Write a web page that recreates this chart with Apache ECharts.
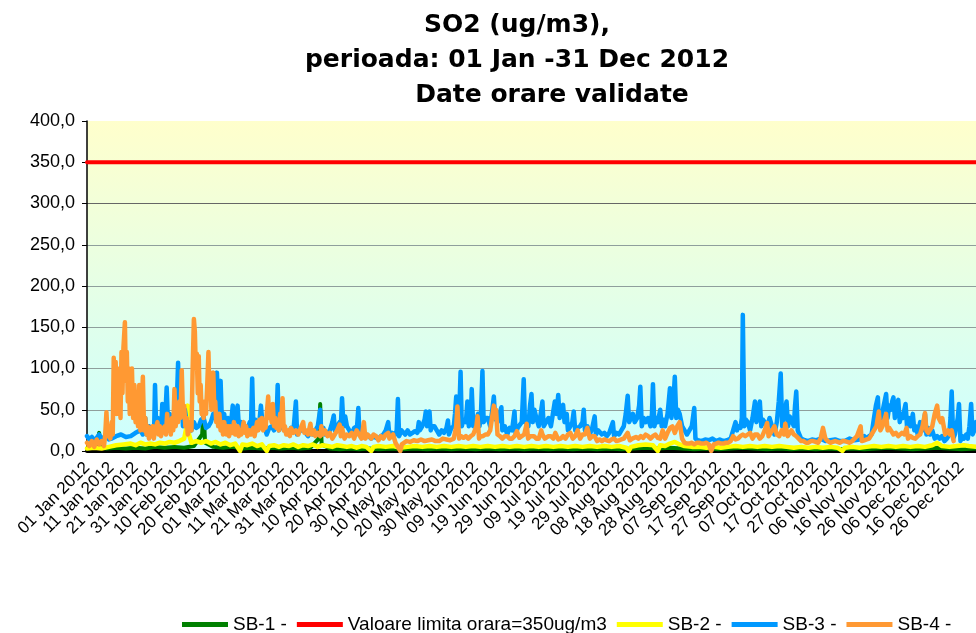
<!DOCTYPE html>
<html>
<head>
<meta charset="utf-8">
<script src="https://cdn.jsdelivr.net/npm/echarts@6/dist/echarts.min.js"></script>
<style>
html, body { margin: 0; padding: 0; background: #fff; }
#chart { width: 976px; height: 633px; }
</style>
</head>
<body>
<div id="chart"></div>
<script>
// zilele anului (0 = 01 Jan 2012), valori orare, ug/m3
var months = ['Jan', 'Feb', 'Mar', 'Apr', 'May', 'Jun', 'Jul', 'Aug', 'Sep', 'Oct', 'Nov', 'Dec'];
var limitValue = 350;
var limitLine = [[0, limitValue], [366, limitValue]];

var sb1 = [[0,3],[2,4],[4,6],[5,22],[5.6,5],[8,3],[12,4],[16,3],[20,4],[24,3],[28,5],[32,4],[36,5],[40,4],[44,6],
    [47.4,20],[48,52],[48.6,10],[52,5],[56,4],[60,5],[64,3],[68,4],[72,3],[76,4],[80,3],[84,4],[88,3],[92,4],
    [95.4,15],[96,57],[96.6,8],[100,3],[104,2],[108,3],[112,2],[116,3],[120,2],[125,3],[130,2],[135,3],[140,2],
    [145,3],[150,2],[155,3],[160,2],[165,3],[170,2],[175,3],[180,2],[185,3],[190,2],[195,3],[200,2],[205,3],
    [210,2],[215,3],[220,2],[225,3],[230,4],[235,3],[240,4],[245,3],[250,2],[255,3],[260,2],[265,3],[270,4],
    [275,3],[280,2],[285,3],[290,2],[295,3],[300,2],[305,3],[310,2],[315,3],[320,2],[325,3],[330,4],[335,3],
    [340,2],[345,3],[350,4],[355,3],[360,2],[366,3]];

var sb2 = [[0,3],[3,4],[6,3],[9,5],[12,7],[15,8],[18,9],[20,7],[22,10],[24,8],[26,9],[28,8],[30,10],[32,9],
    [34,11],[36,10],[38,12],[40,15],[41,30],[41.5,55],[42,20],[43,10],[45,12],[47,10],[49,12],[51,9],[53,11],
    [55,8],[57,10],[59,7],[61,9],[63,0],[64,8],[66,7],[68,9],[70,6],[72,8],[74,0],[75,6],[77,7],[79,5],[81,7],
    [83,6],[85,8],[87,5],[89,7],[91,6],[93,8],[95,5],[97,7],[99,6],[101,5],[103,7],[105,6],[107,5],[109,6],
    [111,4],[113,6],[115,5],[117,0],[118,5],[120,6],[123,5],[126,6],[129,4],[132,5],[135,6],[138,5],[141,6],
    [144,5],[147,6],[150,5],[153,6],[156,5],[159,6],[162,5],[165,6],[168,5],[171,6],[174,5],[177,6],[180,5],
    [183,6],[186,5],[189,6],[192,5],[195,6],[198,5],[201,6],[204,5],[207,6],[210,5],[213,6],[216,5],[219,6],
    [222,4],[223,0],[224,5],[227,7],[230,8],[233,7],[235,0],[236,7],[238,6],[240,9],[242,11],[244,8],[246,6],
    [249,5],[252,5],[255,4],[258,5],[261,4],[264,5],[267,6],[270,5],[273,6],[276,5],[279,6],[282,5],[285,6],
    [288,5],[291,4],[294,5],[297,4],[300,5],[303,4],[306,5],[309,4],[311,0],[312,4],[315,5],[318,4],[321,5],
    [324,6],[327,5],[330,6],[333,5],[336,6],[339,5],[342,6],[345,5],[348,7],[350,10],[352,6],[355,5],[358,6],
    [361,7],[363,6],[366,5]];

var sb3 = [[0,18],[1,14],[2,17],[3,13],[4,16],[5,20],[6,14],[7,17],[8,18],[9,14],[10,15],[12,18],[14,20],[16,17],
    [18,18],[20,22],[22,25],[23,20],[24,40],[24.6,20],[25.5,30],[26,22],[27,28],[27.6,20],[28,80],[28.5,25],
    [29.2,40],[30,35],[30.5,25],[31,57],[31.6,25],[32.2,40],[32.8,77],[33.4,30],[34,45],[35,40],[35.5,30],
    [36.2,45],[37,60],[37.5,107],[38,40],[38.8,75],[39.5,30],[40.3,50],[41,35],[42,30],[43,25],[44,35],[45,28],
    [46,30],[47,38],[48,40],[49,28],[50,30],[51,35],[52,45],[52.8,40],[53.5,95],[54,50],[54.5,60],[55,85],
    [55.6,30],[56.5,45],[57,30],[58,40],[59,25],[60,55],[60.6,35],[61,40],[62,55],[62.6,25],[63.5,35],[64,25],
    [65,30],[66,25],[67,35],[67.5,28],[68,88],[68.5,30],[69.3,38],[70,35],[70.8,30],[71.6,55],[72.2,35],[73,30],
    [74,20],[75,28],[76,30],[77,25],[78,35],[78.5,80],[79,25],[80,30],[81,30],[82,22],[83,20],[84,28],[85,25],
    [86,60],[86.5,20],[87.5,25],[89,25],[90,22],[91,18],[92,22],[93,20],[94,25],[95,30],[96,50],[96.5,20],
    [97.3,28],[98,20],[99,22],[100,25],[101,35],[101.6,43],[102,25],[103,30],[104,35],[104.5,30],[105,64],
    [105.6,30],[106.3,42],[107,30],[108,25],[109,20],[110,28],[111.2,30],[111.7,52],[112.2,20],[113,25],[114,22],
    [115,20],[116,18],[117,15],[118,18],[119,16],[120,15],[121,18],[122,20],[123,25],[124,35],[124.5,18],
    [125.5,22],[127,20],[127.5,25],[128,63],[128.5,18],[129.5,25],[131,20],[132,25],[133,20],[134,22],[135,24],
    [136,22],[136.6,35],[137,25],[138,30],[139,38],[139.5,48],[140,30],[141,48],[141.5,25],[142,30],[143,30],
    [144,25],[145,20],[146,25],[147,22],[148,28],[148.6,37],[149,20],[150,28],[151,30],[151.5,45],[152,66],
    [152.6,30],[153.2,40],[153.8,96],[154.3,30],[155,38],[156,35],[156.6,60],[157.2,30],[158,40],[158.4,75],
    [159,30],[160,35],[161,45],[161.6,30],[162.2,45],[162.8,97],[163.3,35],[164,40],[165,40],[166,30],[166.8,48],
    [167.5,66],[168,40],[169,35],[169.8,45],[170.6,53],[171,25],[172,30],[173,20],[174,28],[175,25],[176,48],
    [176.5,20],[177.3,28],[178,30],[179,35],[179.8,87],[180.3,35],[181,40],[181.7,30],[182.4,55],[183,69],
    [183.5,35],[184.2,50],[185,40],[186,30],[186.8,45],[187.5,60],[188,30],[189,35],[190,40],[191,30],[191.8,45],
    [192.6,60],[193.3,45],[194,68],[194.6,40],[195.3,50],[196,56],[196.6,35],[197.5,45],[198,25],[199,30],
    [199.8,35],[200.4,48],[201,25],[202,28],[203,30],[204,35],[204.5,50],[205,25],[206,30],[207,20],[208,28],
    [209,42],[209.5,20],[210.5,25],[212,20],[213,22],[214,18],[215,22],[216.5,35],[217,18],[218,22],[219,20],
    [220,25],[221,30],[221.8,45],[222.6,67],[223.2,35],[224,40],[224.7,45],[225.5,35],[226.5,40],[227.3,55],
    [227.8,78],[228.4,30],[229.2,40],[230,35],[231,40],[232,30],[232.6,45],[233,81],[233.6,30],[234.3,40],
    [235,35],[236,50],[236.6,30],[237.3,38],[238,30],[239,45],[239.5,60],[240,76],[240.6,40],[241.3,55],[242,90],
    [242.6,40],[243.3,50],[244,45],[245,30],[246,25],[247,20],[248,25],[249,30],[250,52],[250.5,15],[251.5,13],
    [253,12],[254.5,14],[256,13],[257.5,15],[259,12],[260.5,14],[262,12],[263.5,13],[265,15],[266,25],[267,35],
    [267.6,25],[268,30],[269,28],[269.6,40],[270,165],[270.6,30],[271.3,38],[272,35],[273,25],[274,40],[275,60],
    [275.6,35],[276.3,45],[277,60],[277.6,30],[278.3,38],[279,35],[280,28],[281,40],[282,30],[283,20],[284,35],
    [284.8,60],[285.6,94],[286.2,30],[287,45],[288,60],[288.6,30],[289.3,42],[290,40],[291,30],[291.5,55],
    [292,72],[292.6,25],[293.3,20],[294,15],[295.5,13],[297,12],[298.5,14],[300,13],[302,15],[304,12],[306,13],
    [308,14],[310,12],[312,12],[314,15],[316,13],[318,14],[319,15],[320,18],[321,15],[322,18],[323,20],[324,40],
    [324.8,55],[325.6,65],[326,35],[326.6,45],[327,40],[328,55],[329,69],[329.6,40],[330.3,55],[331,50],
    [331.5,60],[332,65],[332.6,40],[333.3,55],[334,62],[334.6,35],[335.3,45],[336,40],[336.5,50],[337,57],
    [337.6,30],[338.3,40],[339,30],[339.6,38],[340,45],[340.6,25],[341.3,30],[342,20],[343,35],[344,25],[345,45],
    [345.6,20],[346.3,28],[347,20],[348,25],[349,15],[350,18],[351,15],[352,18],[353,12],[354,15],[355,20],
    [355.5,40],[356,72],[356.6,15],[357.3,20],[358,20],[358.5,40],[359,57],[359.6,12],[360.3,18],[361,15],
    [362,20],[362.6,15],[363.3,30],[364,57],[364.6,20],[365.3,25],[366,35]];

var sb4 = [[0,10],[1,6],[2,12],[3,5],[4,14],[5,8],[6,12],[7,6],[7.5,20],[8,47],[8.5,18],[9,25],[9.6,15],[10.2,35],
    [10.6,20],[11,113],[11.4,70],[11.8,108],[12.2,45],[12.6,100],[13,55],[13.4,80],[13.8,40],[14.2,120],
    [14.6,70],[15,125],[15.6,156],[16,85],[16.4,120],[16.8,60],[17.2,100],[17.6,45],[18,80],[18.5,100],[19,40],
    [19.5,80],[20,35],[20.5,70],[21,30],[21.5,80],[22,25],[22.5,50],[23,90],[23.5,25],[24,40],[24.5,20],[25,30],
    [25.5,15],[26,28],[26.5,18],[27,30],[27.5,15],[28,25],[29,35],[29.5,20],[30,30],[30.5,18],[31,25],[32,30],
    [32.5,20],[33,45],[33.5,25],[34,35],[34.5,20],[35,40],[35.5,25],[36,75],[36.5,30],[37,45],[37.5,35],[38,60],
    [38.5,40],[39,98],[39.5,45],[40,55],[40.5,30],[41,40],[41.5,20],[42,30],[42.5,35],[43,25],[43.5,100],[44,160],
    [44.4,145],[44.8,100],[45.2,118],[45.6,70],[46,115],[46.4,60],[46.8,80],[47.2,45],[47.6,55],[48,40],[48.5,60],
    [49,45],[49.5,80],[50,120],[50.4,70],[50.8,95],[51.2,50],[51.6,90],[52,95],[52.4,50],[52.8,60],[53.2,35],
    [53.6,45],[54,30],[54.5,45],[55,25],[55.5,35],[56,20],[56.5,35],[57,25],[57.5,20],[58,30],[58.5,18],[59,30],
    [60,22],[60.5,35],[61,20],[62,30],[62.5,18],[63,25],[63.5,20],[64.5,35],[65,22],[65.5,30],[66,18],[67,25],
    [67.5,20],[68.5,28],[69,18],[70,35],[70.5,25],[71,38],[71.5,28],[72,40],[72.5,25],[73,35],[73.5,28],[74,45],
    [74.6,66],[75,40],[75.5,50],[76,35],[76.5,57],[77,30],[77.5,40],[78,28],[78.5,35],[79,25],[79.5,45],[80,40],
    [80.5,64],[81,25],[81.5,30],[82,20],[83,25],[83.5,18],[84,28],[85,22],[86,25],[87,20],[88,28],[89,35],
    [89.5,22],[90,25],[91,20],[92,33],[92.5,20],[93.5,25],[94,18],[95,22],[96,18],[96.5,30],[97,20],[98,25],
    [99,18],[100,22],[101,15],[102,20],[103,25],[104,32],[104.5,18],[105,28],[106,15],[107,20],[108,18],
    [109,22],[110,15],[111,25],[112,20],[113,15],[114,35],[114.6,15],[115.5,20],[116,18],[117,15],[118,20],
    [119,18],[120,13],[121,18],[122,15],[123,20],[124,22],[124.5,15],[126,20],[127,10],[128,5],[129,0],[129.6,8],
    [130,10],[131.5,12],[133,11],[134.5,13],[136,12],[137.5,14],[139,12],[140.5,13],[142,14],[143.5,12],[145,12],
    [146.5,15],[148,14],[149.5,13],[151,15],[152,30],[152.5,54],[153.2,15],[154,18],[155,16],[156,18],[157,15],
    [158,18],[159,20],[160.3,30],[160.8,42],[161.4,15],[162,18],[163,18],[164,20],[165,20],[166,25],[167,45],
    [167.5,55],[168,40],[168.4,50],[169,20],[170,18],[171,15],[172,18],[173,18],[174,15],[175,15],[176,18],
    [177,24],[178,16],[179,18],[180,20],[181,33],[181.6,15],[182.5,18],[184,18],[185,15],[186,15],[187,25],
    [187.5,20],[188.5,15],[189,15],[190,18],[191,18],[192,15],[192.8,22],[194,14],[195,15],[196,18],[197,15],
    [198,20],[199,22],[200,15],[201,18],[202,25],[203,15],[204,20],[205,20],[206,28],[207,15],[208,18],[209,18],
    [210,12],[211,14],[212,12],[213,14],[214,13],[215,12],[216,14],[217,15],[218,12],[219,13],[220,14],[221,15],
    [222.6,22],[223.5,13],[224.5,15],[225,15],[226,17],[227,15],[228,18],[229,16],[230,20],[231,18],[232,15],
    [233,18],[234,20],[235,16],[236,15],[237,25],[238,15],[239,22],[240,28],[241,30],[242,22],[243,30],[244,35],
    [245,15],[246,10],[247,9],[248,9],[249,10],[250,8],[251,10],[252,10],[253,9],[254,9],[255,10],[256,8],
    [257,0],[258,8],[259,9],[260,10],[261,9],[262,9],[263,10],[264,10],[265,12],[266,18],[267,14],[268,15],
    [269,18],[270,20],[271,18],[272,20],[273,22],[274,15],[275,20],[276,20],[277,15],[278,18],[279,25],[280,34],
    [280.6,18],[281.5,22],[282,20],[283,30],[284,20],[285,18],[286,25],[287,20],[287.5,33],[288.5,18],[289,20],
    [290,25],[291,20],[292,18],[293,15],[294,12],[295,12],[296,10],[297,10],[298,12],[299,12],[300,11],[301,10],
    [302,15],[303,28],[304,15],[305,12],[306,10],[307,11],[308,12],[309,11],[310,10],[311,12],[312,12],[313,11],
    [314,10],[315,12],[316,15],[317,18],[318.5,30],[319,12],[320,13],[321,14],[322,15],[323,20],[324,25],
    [325,30],[326,48],[326.6,25],[327.5,30],[328,35],[329,45],[329.6,25],[330.3,28],[331,30],[332,20],[333,22],
    [334,18],[335.5,22],[336.5,20],[337.4,28],[338,15],[339,18],[340,16],[341,15],[342,18],[343,20],[344,30],
    [345,46],[345.6,25],[346.3,22],[347,20],[348,30],[349,45],[350,55],[350.6,40],[351.5,35],[352.1,40],
    [352.7,38],[353.3,20],[354,22],[354.5,25],[355.3,20],[356,25],[356.8,12]];

function pad(n) {
    return n < 10 ? '0' + n : '' + n;
}

function dayLabel(v) {
    var d = new Date(2012, 0, 1 + v);
    return pad(d.getDate()) + ' ' + months[d.getMonth()] + ' ' + d.getFullYear();
}

function lineSeries(name, color, data, width) {
    return {
        name: name,
        type: 'line',
        data: data,
        symbol: 'none',
        lineStyle: { color: color, width: width, cap: 'round', join: 'round' },
        itemStyle: { color: color },
        animation: false
    };
}

var myChart = echarts.init(document.getElementById('chart'));

var titleFont = { fontFamily: 'DejaVu Sans', fontWeight: 'bold', fontSize: 25, color: '#000' };

var option = {
    backgroundColor: '#fff',
    title: [
        { text: 'SO2 (ug/m3),', left: 512, top: 8, textAlign: 'center', textStyle: titleFont },
        { text: 'perioada: 01 Jan -31 Dec 2012', left: 512, top: 43, textAlign: 'center', textStyle: titleFont },
        { text: 'Date orare validate', left: 547, top: 78, textAlign: 'center', textStyle: titleFont }
    ],
    legend: {
        left: 177,
        top: 610,
        icon: 'rect',
        itemWidth: 46,
        itemHeight: 5,
        itemGap: 10,
        textStyle: { fontFamily: 'Liberation Sans', fontSize: 19, color: '#000' },
        data: ['SB-1 -', 'Valoare limita orara=350ug/m3', 'SB-2 -', 'SB-3 -', 'SB-4 -']
    },
    grid: {
        left: 87,
        right: 0,
        top: 121,
        bottom: 182,
        outerBoundsMode: 'none',
        show: true,
        borderWidth: 0,
        backgroundColor: {
            type: 'linear', x: 0, y: 0, x2: 0, y2: 1,
            colorStops: [{ offset: 0, color: '#FFFFCC' }, { offset: 1, color: '#CCFFFF' }]
        }
    },
    xAxis: {
        type: 'value',
        min: 0,
        max: 366,
        interval: 10,
        axisLine: { show: true, onZero: false, lineStyle: { color: '#000', width: 4 } },
        axisTick: { show: false },
        splitLine: { show: false },
        axisLabel: {
            rotate: 45,
            margin: 14,
            showMinLabel: true,
            showMaxLabel: false,
            hideOverlap: false,
            fontFamily: 'Liberation Sans',
            fontSize: 17,
            color: '#000',
            formatter: dayLabel
        }
    },
    yAxis: {
        type: 'value',
        min: 0,
        max: 400,
        interval: 50,
        axisLine: { show: true, lineStyle: { color: '#000', width: 1.5 } },
        axisTick: { show: true, length: 5, lineStyle: { color: '#000' } },
        splitLine: {
            lineStyle: {
                color: ['#888', '#8f9f9c', '#8f9f9c', '#8f9f9c', '#8f9f9c', '#8f9f9c', '#666', '#888', 'transparent'],
                width: 1.2
            }
        },
        axisLabel: {
            fontFamily: 'Liberation Sans',
            fontSize: 18,
            color: '#000',
            margin: 12,
            formatter: function (v) { return v.toFixed(1).replace('.', ','); }
        }
    },
    series: [
        lineSeries('SB-1 -', '#008000', sb1, 4),
        lineSeries('Valoare limita orara=350ug/m3', '#FF0000', limitLine, 4),
        lineSeries('SB-2 -', '#FFFF00', sb2, 4.5),
        lineSeries('SB-3 -', '#0099FF', sb3, 4.5),
        lineSeries('SB-4 -', '#FF9933', sb4, 4.5)
    ]
};

myChart.setOption(option);
</script>
</body>
</html>
